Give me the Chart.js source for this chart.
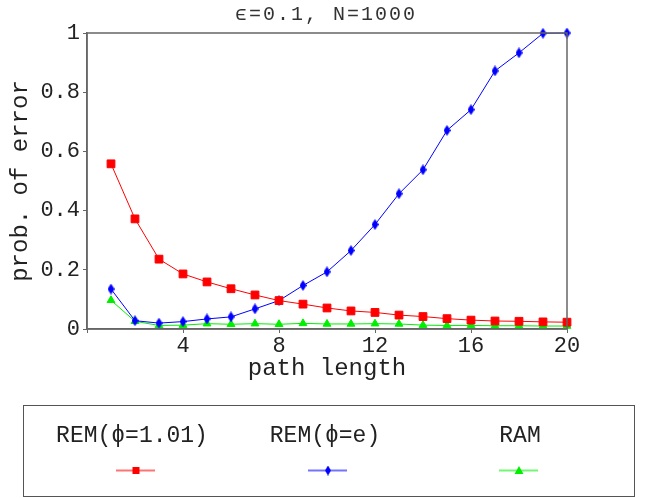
<!DOCTYPE html>
<html lang="en">
<head>
    <meta charset="UTF-8">
    <title>prob. of error</title>
    <script src="https://cdn.jsdelivr.net/npm/chart.js"></script>
    <style>
        body { margin: 0; background: #fff; }
        #wrap { width: 646px; height: 498px; }
    </style>
</head>
<body>
<div id="wrap"><canvas id="errChart" width="646" height="498"></canvas></div>
<script>
    // data
    const pathLength = [1, 2, 3, 4, 5, 6, 7, 8, 9, 10, 11, 12, 13, 14, 15, 16, 17, 18, 19, 20];
    const remLow = [0.558, 0.372, 0.236, 0.186, 0.159, 0.136, 0.115, 0.096, 0.084, 0.071,
                    0.061, 0.056, 0.047, 0.042, 0.035, 0.030, 0.027, 0.026, 0.024, 0.023];
    const remE = [0.135, 0.028, 0.020, 0.025, 0.034, 0.041, 0.068, 0.096, 0.147, 0.193,
                  0.265, 0.353, 0.457, 0.538, 0.671, 0.741, 0.872, 0.933, 0.999, 1.0];
    const ram = [0.097, 0.026, 0.012, 0.013, 0.018, 0.016, 0.018, 0.016, 0.019, 0.017,
                 0.017, 0.018, 0.017, 0.013, 0.012, 0.012, 0.011, 0.011, 0.010, 0.010];
    const seriesNames = ['REM(\u03d5=1.01)', 'REM(\u03d5=e)', 'RAM'];
    const xTicks = [4, 8, 12, 16, 20];
    const yTicks = [0, 0.2, 0.4, 0.6, 0.8, 1];

    const mono = '"Liberation Mono", "DejaVu Sans Mono", monospace';

    // tall thin diamond marker
    function diamond(w, h, color) {
        const c = document.createElement('canvas');
        c.width = w; c.height = h;
        const g = c.getContext('2d');
        g.fillStyle = color;
        g.beginPath();
        g.moveTo(w / 2, 0); g.lineTo(w, h / 2); g.lineTo(w / 2, h); g.lineTo(0, h / 2);
        g.closePath(); g.fill();
        return c;
    }
    const blueDiamond = diamond(7, 11, '#0000ff');

    function pts(ys) {
        return pathLength.map((x, i) => ({x: x, y: ys[i]}));
    }

    // frame, title and legend box
    const extras = {
        id: 'extras',
        afterDraw(chart) {
            const ctx = chart.ctx;
            const a = chart.chartArea;
            ctx.save();
            ctx.strokeStyle = '#666';
            ctx.lineWidth = 1.5;
            ctx.strokeRect(a.left, a.top, a.right - a.left, a.bottom - a.top);

            ctx.fillStyle = '#333';
            ctx.font = '20px ' + mono;
            ctx.letterSpacing = '2px';
            ctx.textAlign = 'center';
            ctx.textBaseline = 'middle';
            ctx.fillText('\u03f5=0.1, N=1000', 326, 15);
            ctx.letterSpacing = '0px';

            // legend
            ctx.strokeStyle = '#555';
            ctx.lineWidth = 1;
            ctx.strokeRect(23.5, 405.5, 611, 91);
            const textX = [132, 325, 520];
            const markX = [136, 328, 519];
            ctx.font = '23px ' + mono;
            chart.data.datasets.forEach((ds, i) => {
                ctx.fillStyle = '#222';
                ctx.fillText(seriesNames[i], textX[i], 436);
                const m = markX[i];
                ctx.strokeStyle = ds.borderColor;
                ctx.globalAlpha = 0.55;
                ctx.lineWidth = 2;
                ctx.beginPath();
                ctx.moveTo(m - 20, 470.5); ctx.lineTo(m + 19, 470.5);
                ctx.stroke();
                ctx.globalAlpha = 1;
                ctx.fillStyle = ds.borderColor;
                if (i === 0) {
                    ctx.fillRect(m - 3.5, 467, 7, 7);
                } else if (i === 1) {
                    ctx.drawImage(diamond(6, 10, ds.borderColor), m - 3, 465.5);
                } else {
                    ctx.beginPath();
                    ctx.moveTo(m, 466); ctx.lineTo(m + 4.5, 474); ctx.lineTo(m - 4.5, 474);
                    ctx.closePath(); ctx.fill();
                }
            });
            ctx.restore();
        }
    };

    const ctx = document.getElementById('errChart').getContext('2d');
    new Chart(ctx, {
        type: 'line',
        data: {
            datasets: [
                {
                    label: seriesNames[0], data: pts(remLow),
                    borderColor: '#ff0000', backgroundColor: '#ff0000',
                    borderWidth: 1, pointStyle: 'rect', pointRadius: 5.5, tension: 0
                },
                {
                    label: seriesNames[1], data: pts(remE),
                    borderColor: '#0000ff', backgroundColor: '#0000ff',
                    borderWidth: 1, pointStyle: blueDiamond, tension: 0
                },
                {
                    label: seriesNames[2], data: pts(ram),
                    borderColor: '#00ee00', backgroundColor: '#00ee00',
                    borderWidth: 1, pointStyle: 'triangle', pointRadius: 4.5, tension: 0
                }
            ]
        },
        options: {
            responsive: false,
            animation: false,
            clip: false,
            layout: {padding: {top: 33, right: 79, bottom: 115, left: 0}},
            plugins: {
                legend: {display: false},
                title: {display: false},
                tooltip: {enabled: false}
            },
            scales: {
                x: {
                    type: 'linear', min: 0, max: 20,
                    afterFit(s) { s.height = 54; },
                    afterBuildTicks(s) { s.ticks = [0].concat(xTicks).map(v => ({value: v})); },
                    grid: {drawOnChartArea: false, tickLength: 4, color: '#666'},
                    border: {color: '#666', width: 1.5},
                    ticks: {
                        color: '#222', padding: 0,
                        font: {family: mono, size: 22},
                        callback: v => v === 0 ? '' : v
                    },
                    title: {
                        display: true, text: 'path length', color: '#222',
                        font: {family: mono, size: 24}, padding: {top: 0, bottom: 0}
                    }
                },
                y: {
                    min: 0, max: 1,
                    afterFit(s) { s.width = 87; },
                    afterBuildTicks(s) { s.ticks = yTicks.map(v => ({value: v})); },
                    grid: {drawOnChartArea: false, tickLength: 4, color: '#666'},
                    border: {color: '#666', width: 1.5},
                    ticks: {
                        color: '#222', padding: 3,
                        font: {family: mono, size: 22},
                        callback: v => String(v)
                    },
                    title: {
                        display: true, text: 'prob. of error', color: '#222',
                        font: {family: mono, size: 24}, padding: {top: 6, bottom: 0}
                    }
                }
            }
        },
        plugins: [extras]
    });
</script>
</body>
</html>
